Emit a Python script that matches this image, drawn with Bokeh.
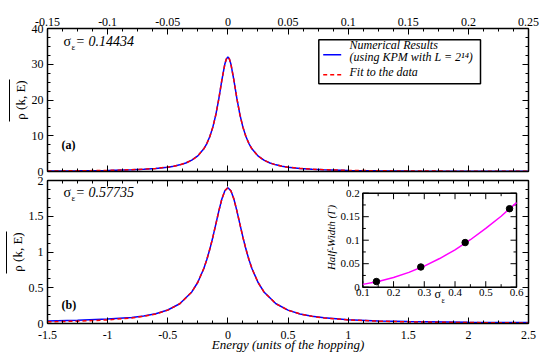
import math
import numpy as np
from bokeh.plotting import figure
from bokeh.models import LinearAxis, FixedTicker, Range1d, Label, BoxAnnotation, Arrow
from bokeh.layouts import column
from bokeh.embed import file_html
from bokeh.resources import INLINE
from bokeh.core.properties import value

SERIF = "Liberation Serif"

# ---------------- data: panel (a) ----------------
top_E = [-0.15, -0.125, -0.1, -0.08, -0.07, -0.06, -0.05, -0.045, -0.04, -0.035, -0.03, -0.025,
         -0.02, -0.0175, -0.015, -0.0125, -0.01, -0.0075, -0.005, -0.0025, -0.00125, 0.0,
         0.00125, 0.0025, 0.005, 0.0075, 0.01, 0.0125, 0.015, 0.0175, 0.02, 0.025, 0.03, 0.035,
         0.04, 0.045, 0.05, 0.06, 0.07, 0.08, 0.1, 0.125, 0.15, 0.2, 0.25]
top_rho_kpm = [0.14, 0.20, 0.31, 0.49, 0.63, 0.86, 1.22, 1.49, 1.86, 2.39, 3.17, 4.37,
               6.35, 7.81, 9.77, 12.41, 15.91, 20.40, 25.54, 30.09, 31.49, 32.0,
               31.49, 30.09, 25.54, 20.40, 15.91, 12.41, 9.77, 7.81, 6.35, 4.37, 3.17, 2.39,
               1.86, 1.49, 1.22, 0.86, 0.63, 0.49, 0.31, 0.20, 0.14, 0.08, 0.05]
top_rho_fit = [0.14, 0.20, 0.31, 0.49, 0.63, 0.86, 1.22, 1.49, 1.86, 2.39, 3.17, 4.37,
               6.35, 7.81, 9.77, 12.41, 15.91, 20.40, 25.54, 30.09, 31.49, 32.0,
               31.49, 30.09, 25.54, 20.40, 15.91, 12.41, 9.77, 7.81, 6.35, 4.37, 3.17, 2.39,
               1.86, 1.49, 1.22, 0.86, 0.63, 0.49, 0.31, 0.20, 0.14, 0.08, 0.05]

# ---------------- data: panel (b) ----------------
bot_E = [-1.5, -1.25, -1.0, -0.8, -0.7, -0.6, -0.5, -0.4, -0.3, -0.25, -0.2, -0.175, -0.15,
         -0.125, -0.1, -0.075, -0.05, -0.025, 0.0, 0.025, 0.05, 0.075, 0.1, 0.125, 0.15, 0.175,
         0.2, 0.25, 0.3, 0.4, 0.5, 0.6, 0.7, 0.8, 1.0, 1.25, 1.5, 2.0, 2.5]
bot_rho_kpm = [0.035, 0.045, 0.062, 0.085, 0.105, 0.137, 0.189, 0.276, 0.441, 0.577, 0.770, 0.894, 1.041,
               1.207, 1.390, 1.575, 1.741, 1.857, 1.900, 1.857, 1.741, 1.575, 1.390, 1.207, 1.041, 0.894,
               0.770, 0.577, 0.441, 0.276, 0.187, 0.134, 0.100, 0.080, 0.053, 0.036, 0.027, 0.018, 0.013]
bot_rho_fit = [0.023, 0.033, 0.050, 0.078, 0.100, 0.134, 0.187, 0.276, 0.441, 0.577, 0.770, 0.894, 1.041,
               1.207, 1.390, 1.575, 1.741, 1.857, 1.900, 1.857, 1.741, 1.575, 1.390, 1.207, 1.041, 0.894,
               0.770, 0.577, 0.441, 0.276, 0.187, 0.134, 0.100, 0.078, 0.050, 0.033, 0.023, 0.013, 0.008]

# ---------------- data: inset ----------------
inset_sigma = [0.14434, 0.28868, 0.43301, 0.57735]
inset_gamma = [0.012, 0.043, 0.095, 0.167]
inset_fit_sigma = [0.1, 0.15, 0.2, 0.25, 0.3, 0.35, 0.4, 0.45, 0.5, 0.55, 0.6]
inset_fit_gamma = [0.006, 0.012, 0.0205, 0.0315, 0.045, 0.061, 0.0795, 0.101, 0.125, 0.151, 0.18]

# ---------------- ticks ----------------
top_x_ticks = [-0.15, -0.1, -0.05, 0.0, 0.05, 0.1, 0.15, 0.2, 0.25]
top_x_labels = ["-0.15", "-0.1", "-0.05", "0", "0.05", "0.1", "0.15", "0.2", "0.25"]
top_y_ticks = [0.0, 10.0, 20.0, 30.0, 40.0]
top_y_labels = ["0", "10", "20", "30", "40"]
bot_x_ticks = [-1.5, -1.0, -0.5, 0.0, 0.5, 1.0, 1.5, 2.0, 2.5]
bot_x_labels = ["-1.5", "-1", "-0.5", "0", "0.5", "1", "1.5", "2", "2.5"]
bot_y_ticks = [0.0, 0.5, 1.0, 1.5, 2.0]
bot_y_labels = ["0", "0.5", "1", "1.5", "2"]
inset_x_ticks = [0.1, 0.2, 0.3, 0.4, 0.5, 0.6]
inset_x_labels = ["0.1", "0.2", "0.3", "0.4", "0.5", "0.6"]
inset_x_minor = [0.15, 0.25, 0.35, 0.45, 0.55]
inset_y_ticks = [0.0, 0.05, 0.1, 0.15, 0.2]
inset_y_labels = ["0", "0.05", "0.1", "0.15", "0.2"]
inset_y_minor = [0.025, 0.075, 0.125, 0.175]

Y_LABEL = "ρ (k, E)"
X_LABEL = "Energy (units of the hopping)"
LEGEND_LINES = ["Numerical Results", "(using KPM with L = 2\u00b9\u2074)", "Fit to the data"]

BLUE = "#0000ff"
RED = "#ff0000"

FW, FH = 481, 143


def minor(lo, hi, step):
    return [float(v) for v in np.round(np.arange(lo, hi + step / 2, step), 6)]


def make_fig(xr, yr, bt, bb, **kw):
    p = figure(frame_width=FW, frame_height=FH, x_range=Range1d(*xr), y_range=Range1d(*yr),
               output_backend="svg", toolbar_location=None,
               x_axis_location=None, y_axis_location=None,
               min_border_left=47, min_border_right=17, min_border_top=bt, min_border_bottom=bb, **kw)
    p.grid.visible = False
    p.outline_line_color = None
    p.background_fill_color = "white"
    p.border_fill_color = "white"
    return p


def add_axis(p, side, ticks, minors, labels=None, standoff=4):
    ax = LinearAxis(ticker=FixedTicker(ticks=ticks, minor_ticks=minors))
    ax.axis_line_color = "black"
    ax.axis_line_width = 1.5
    ax.major_tick_in = 6
    ax.major_tick_out = 0
    ax.minor_tick_in = 3
    ax.minor_tick_out = 0
    ax.major_tick_line_color = "black"
    ax.minor_tick_line_color = "black"
    ax.major_tick_line_width = 1
    ax.minor_tick_line_width = 1
    if labels is not None:
        ax.major_label_overrides = {float(t): s for t, s in zip(ticks, labels)}
        ax.major_label_text_font = SERIF
        ax.major_label_text_font_size = "12px"
        ax.major_label_text_color = "black"
        ax.major_label_standoff = standoff
    else:
        ax.major_label_text_font_size = "0px"
        ax.major_label_text_color = None
        ax.major_label_standoff = 0
    p.add_layout(ax, side)
    return ax


def overline_axis(p, lo, hi):
    # an axis with no ticks whose bounded rule draws the bar over the rotated y label
    ax = LinearAxis(ticker=FixedTicker(ticks=[], minor_ticks=[]), bounds=(lo, hi))
    ax.axis_line_color = "black"
    ax.axis_line_width = 1
    ax.major_tick_in = 0
    ax.major_tick_out = 0
    ax.minor_tick_in = 0
    ax.minor_tick_out = 0
    ax.major_label_text_font_size = "0px"
    ax.major_label_text_color = None
    ax.major_label_standoff = 0
    p.add_layout(ax, "left")


def style_ylabel(ax):
    ax.axis_label = Y_LABEL
    ax.axis_label_text_font = SERIF
    ax.axis_label_text_font_size = "13px"
    ax.axis_label_text_font_style = "normal"
    ax.axis_label_text_color = "black"
    ax.axis_label_standoff = 1


def put(p, rx, ry, text, **kw):
    opts = dict(text_font=SERIF, text_color="black")
    opts.update(kw)
    p.add_layout(Label(x=rx, y=ry, x_units="screen", y_units="screen", text=text, **opts))


def sample(p, x0, x1, y, color, dash="solid"):
    p.add_layout(Arrow(x_start=x0, y_start=y, x_end=x1, y_end=y, start_units="screen", end_units="screen",
                       start=None, end=None, line_color=color, line_width=1.5, line_dash=dash))


# ================= panel (a) =================
p1 = make_fig((-0.15, 0.25), (0, 40), 28, 5)
add_axis(p1, "above", top_x_ticks, minor(-0.15, 0.25, 0.0125), top_x_labels, standoff=3)
add_axis(p1, "below", top_x_ticks, minor(-0.15, 0.25, 0.0125))
ly1 = add_axis(p1, "left", top_y_ticks, minor(0, 40, 2.5), top_y_labels, standoff=4)
style_ylabel(ly1)
overline_axis(p1, 14.0, 25.7)
add_axis(p1, "right", top_y_ticks, minor(0, 40, 2.5))

p1.line(top_E, top_rho_kpm, line_color=BLUE, line_width=1.5)
p1.line(top_E, top_rho_fit, line_color=RED, line_width=1.5, line_dash="4 3")

# legend box (screen px relative to the frame)
p1.add_layout(BoxAnnotation(left=271.3, right=433, bottom=87.7, top=131.7,
                            left_units="screen", right_units="screen", bottom_units="screen", top_units="screen",
                            fill_color="white", fill_alpha=1.0, line_color="black", line_alpha=1.0, line_width=1.5))
sample(p1, 275.7, 293.7, 116.7, BLUE)
sample(p1, 275.7, 293.7, 96.7, RED, "4 3")
put(p1, 302, 120, LEGEND_LINES[0], text_font_size="12px", text_font_style="italic")
put(p1, 302, 107.5, LEGEND_LINES[1], text_font_size="12px", text_font_style="italic")
put(p1, 302, 93, LEGEND_LINES[2], text_font_size="12px", text_font_style="italic")

put(p1, 16, 123, "σ", text_font_size="14px")
put(p1, 24, 120, "ε", text_font_size="9px")
put(p1, 28, 123, "= 0.14434", text_font_size="14px", text_font_style="italic")
put(p1, 14, 20, "(a)", text_font_size="12px", text_font_style="bold")

# ================= panel (b) =================
inset_xlim = (0.1, 0.6)
inset_ylim = (0.0, 0.2)
ins_left, ins_right, ins_top, ins_bottom = 315.3, 469.0, 12.7, 106.7  # px from frame left / top
xs_per_px = (inset_xlim[1] - inset_xlim[0]) / (ins_right - ins_left)
ys_per_px = (inset_ylim[1] - inset_ylim[0]) / (ins_bottom - ins_top)
ix0 = inset_xlim[0] - ins_left * xs_per_px
iy0 = inset_ylim[0] - (FH - ins_bottom) * ys_per_px
p2 = make_fig((-1.5, 2.5), (0, 2), 4, 31,
              extra_x_ranges={"ix": Range1d(ix0, ix0 + FW * xs_per_px)},
              extra_y_ranges={"iy": Range1d(iy0, iy0 + FH * ys_per_px)})
bx = add_axis(p2, "below", bot_x_ticks, minor(-1.5, 2.5, 0.125), bot_x_labels, standoff=7)
bx.axis_label = X_LABEL
bx.axis_label_text_font = SERIF
bx.axis_label_text_font_size = "13px"
bx.axis_label_text_font_style = "italic"
bx.axis_label_text_color = "black"
bx.axis_label_standoff = -5
add_axis(p2, "above", bot_x_ticks, minor(-1.5, 2.5, 0.125))
ly2 = add_axis(p2, "left", bot_y_ticks, minor(0, 2, 0.125), bot_y_labels, standoff=4)
style_ylabel(ly2)
overline_axis(p2, 0.70, 1.29)
add_axis(p2, "right", bot_y_ticks, minor(0, 2, 0.125))

p2.line(bot_E, bot_rho_kpm, line_color=BLUE, line_width=1.5)
p2.line(bot_E, bot_rho_fit, line_color=RED, line_width=1.5, line_dash="4 3")

put(p2, 16, 123.5, "σ", text_font_size="14px")
put(p2, 24, 120.5, "ε", text_font_size="9px")
put(p2, 28, 123.5, "= 0.57735", text_font_size="14px", text_font_style="italic")
put(p2, 14, 12, "(b)", text_font_size="12px", text_font_style="bold")

# inset
R = dict(x_range_name="ix", y_range_name="iy")
p2.quad(left=[inset_xlim[0]], right=[inset_xlim[1]], bottom=[inset_ylim[0]], top=[inset_ylim[1]],
        fill_color="white", line_color="black", line_width=1.5, **R)
for tks, ln in ((inset_x_ticks, 6), (inset_x_minor, 3)):
    p2.ray(x=tks, y=[inset_ylim[0]] * len(tks), length=ln, length_units="screen", angle=math.pi / 2,
           line_color="black", line_width=1, **R)
    p2.ray(x=tks, y=[inset_ylim[1]] * len(tks), length=ln, length_units="screen", angle=-math.pi / 2,
           line_color="black", line_width=1, **R)
for tks, ln in ((inset_y_ticks, 6), (inset_y_minor, 3)):
    p2.ray(x=[inset_xlim[0]] * len(tks), y=tks, length=ln, length_units="screen", angle=0,
           line_color="black", line_width=1, **R)
    p2.ray(x=[inset_xlim[1]] * len(tks), y=tks, length=ln, length_units="screen", angle=math.pi,
           line_color="black", line_width=1, **R)
p2.text(x=inset_x_ticks, y=[inset_ylim[0]] * len(inset_x_ticks), text=inset_x_labels, y_offset=2,
        text_align="center", text_baseline="top", text_font=value(SERIF), text_font_size="11px",
        text_color="black", **R)
p2.text(x=[inset_xlim[0]] * len(inset_y_ticks), y=inset_y_ticks, text=inset_y_labels, x_offset=-3,
        text_align="right", text_baseline="middle", text_font=value(SERIF), text_font_size="11px",
        text_color="black", **R)
p2.line(inset_fit_sigma, inset_fit_gamma, line_color="#ff00ff", line_width=1.5, **R)
p2.scatter(inset_sigma, inset_gamma, size=6.5, fill_color="black", line_color="black", **R)

put(p2, 283, 86, "Half-Width (Γ)", angle=math.pi / 2, text_align="center", text_baseline="middle",
    text_font_size="11px", text_font_style="italic")
put(p2, 387, 22.3, "σ", text_font_size="12px")
put(p2, 394, 19, "ε", text_font_size="8px")

layout = column(p1, p2, spacing=0)
open("out.html", "w").write(file_html(layout, INLINE))
